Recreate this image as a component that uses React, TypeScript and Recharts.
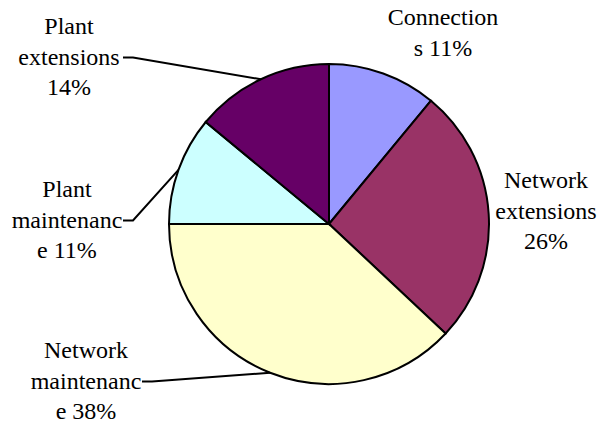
import { PieChart, Pie, Cell } from "recharts"

const categories = ["Connections", "Network extensions", "Network maintenance", "Plant maintenance", "Plant extensions"]
const shares = [11, 26, 38, 11, 14]
const colors = ["#9999ff", "#993366", "#ffffcc", "#ccffff", "#660066"]

// wrapped the way the original labels wrap
const labelLines = [
  ["Connection", "s 11%"],
  ["Network", "extensions", "26%"],
  ["Network", "maintenanc", "e 38%"],
  ["Plant", "maintenanc", "e 11%"],
  ["Plant", "extensions", "14%"],
]

// text block placement relative to pie centre; leader = draw line from text to slice
const labelPlace = [
  { dx: 114, dy: -199, leader: false, endX: 0 },
  { dx: 217, dy: -36, leader: false, endX: 0 },
  { dx: -243, dy: 134, leader: true, endX: -187 },
  { dx: -262, dy: -27, leader: true, endX: -206 },
  { dx: -260, dy: -190, leader: true, endX: -206 },
]

const data = categories.map((name, i) => ({ name, value: shares[i] }))

const LINE_H = 30.5
const RAD = Math.PI / 180

function renderLabel(props: any) {
  const { cx, cy, midAngle, outerRadius, index } = props
  const place = labelPlace[index]
  const lines = labelLines[index]
  const tx = cx + place.dx
  const ty = cy + place.dy
  let leader = null
  if (place.leader) {
    const px = cx + outerRadius * Math.cos(-midAngle * RAD)
    const py = cy + outerRadius * Math.sin(-midAngle * RAD)
    const ly = ty + LINE_H - 7
    const sx = cx + place.endX
    leader = (
      <polyline
        points={`${sx},${ly} ${sx + 10},${ly} ${px},${py}`}
        fill="none"
        stroke="#000"
        strokeWidth={2}
      />
    )
  }
  return (
    <g key={`lbl-${index}`} fontFamily="Times New Roman" fontSize={24}>
      {leader}
      {lines.map((t, j) => (
        <text
          key={j}
          x={tx}
          y={ty + j * LINE_H}
          textAnchor="middle"
          fontFamily="Times New Roman"
          fontSize={24}
          fill="#000"
        >
          {t}
        </text>
      ))}
    </g>
  )
}

export default function App() {
  return (
    <div style={{ position: "absolute", left: 0, top: 0, width: 599, height: 425, background: "#fff" }}>
      <PieChart width={599} height={425} margin={{ top: 0, right: 0, bottom: 0, left: 0 }}>
        <Pie
          data={data}
          dataKey="value"
          nameKey="name"
          cx={329}
          cy={224}
          outerRadius={160}
          startAngle={90}
          endAngle={-270}
          stroke="#000"
          strokeWidth={2}
          label={renderLabel}
          labelLine={false}
          isAnimationActive={false}
        >
          {data.map((d, i) => (
            <Cell key={d.name} fill={colors[i]} />
          ))}
        </Pie>
      </PieChart>
    </div>
  )
}
